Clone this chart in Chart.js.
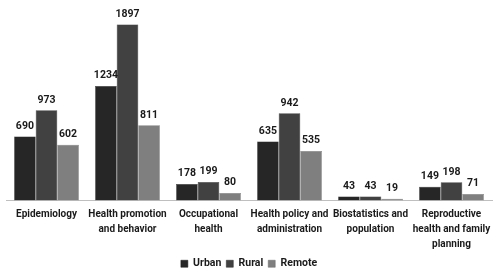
<!DOCTYPE html>
<html>
<head>
<meta charset="utf-8">
<script src="https://cdn.jsdelivr.net/npm/chart.js@4"></script>
<style>
  html, body { margin: 0; padding: 0; background: #fff; }
  #wrap { width: 500px; height: 275px; }
</style>
</head>
<body>
<div id="wrap"><canvas id="c"></canvas></div>
<script>
// categories (multi-line labels as in the figure)
const categories = [
  ['Epidemiology'],
  ['Health promotion', 'and behavior'],
  ['Occupational', 'health'],
  ['Health policy and', 'administration'],
  ['Biostatistics and', 'population'],
  ['Reproductive', 'health and family', 'planning']
];
const urban  = [690, 1234, 178, 635, 43, 149];
const rural  = [973, 1897, 199, 942, 43, 198];
const remote = [602, 811, 80, 535, 19, 71];

const FONT = "Roboto, 'Liberation Sans', sans-serif";

// valeurs au-dessus des barres
const valueLabels = {
  id: 'valueLabels',
  afterDatasetsDraw(chart) {
    const ctx = chart.ctx;
    ctx.save();
    ctx.font = `bold 10.5px ${FONT}`;
    ctx.fillStyle = '#1a1a1a';
    ctx.textAlign = 'center';
    ctx.textBaseline = 'bottom';
    chart.data.datasets.forEach((ds, i) => {
      chart.getDatasetMeta(i).data.forEach((bar, j) => {
        ctx.fillText(ds.data[j], bar.x, bar.y - 5);
      });
    });
    ctx.restore();
  }
};

new Chart(document.getElementById('c'), {
  type: 'bar',
  data: {
    labels: categories,
    datasets: [
      { label: 'Urban',  data: urban,  backgroundColor: '#262626', borderColor: '#1a1a1a', borderWidth: 0.5 },
      { label: 'Rural',  data: rural,  backgroundColor: '#414141', borderColor: '#2a2a2a', borderWidth: 0.5 },
      { label: 'Remote', data: remote, backgroundColor: '#7f7f7f', borderColor: '#6a6a6a', borderWidth: 0.5 }
    ]
  },
  options: {
    responsive: true,
    maintainAspectRatio: false,
    animation: false,
    layout: { padding: { left: 6, right: 8, top: 15, bottom: -4 } },
    datasets: { bar: { categoryPercentage: 0.8, barPercentage: 1.0 } },
    plugins: {
      legend: {
        position: 'bottom',
        labels: { boxWidth: 7, boxHeight: 7, padding: 5, color: '#1a1a1a', font: { family: FONT, size: 10.5, weight: 'bold' } }
      },
      tooltip: { enabled: false }
    },
    scales: {
      y: { display: false, min: 0, max: 2000 },
      x: {
        afterFit: (scale) => { scale.height = 53; },
        grid: { display: false },
        border: { color: '#bfbfbf', width: 1 },
        ticks: { color: '#1a1a1a', maxRotation: 0, autoSkip: false, padding: -2, font: { family: FONT, size: 10, weight: 'bold', lineHeight: 1.5 } }
      }
    }
  },
  plugins: [valueLabels]
});
</script>
</body>
</html>
